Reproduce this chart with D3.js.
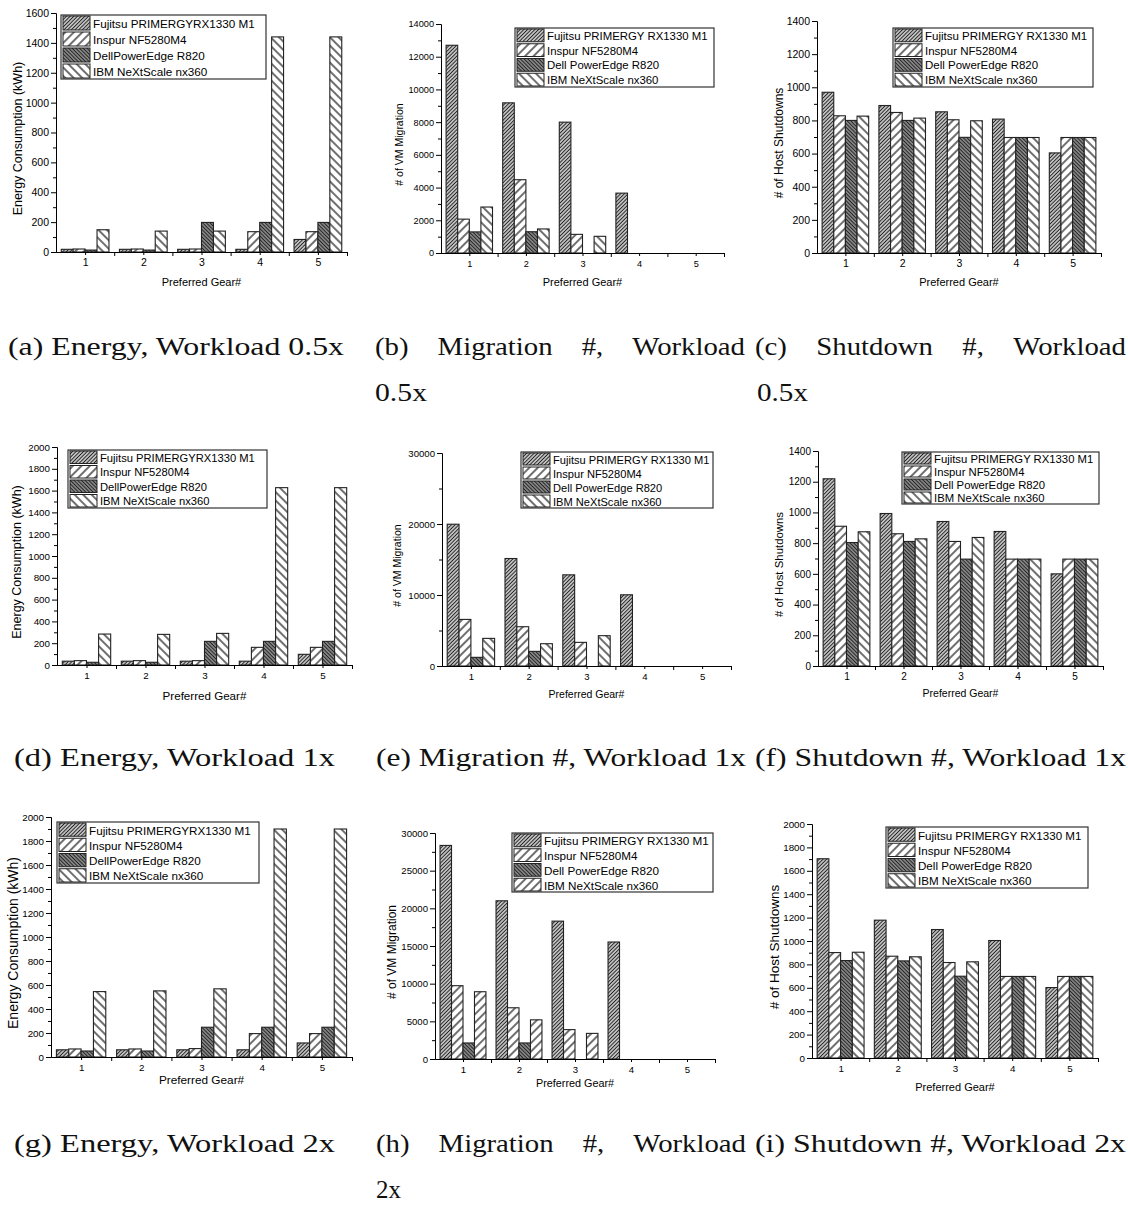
<!DOCTYPE html>
<html>
<head>
<meta charset="utf-8">
<script src="https://cdn.jsdelivr.net/npm/d3@7"></script>
<style>
body { margin: 0; background: #fff; }
svg text { font-family: "Liberation Sans", Arial, sans-serif; fill: #000; }
svg text.cap { font-family: "Liberation Serif", "Times New Roman", serif; fill: #111; }
</style>
</head>
<body>
<svg id="fig" width="1128" height="1209"></svg>
<script>
const gears = [1, 2, 3, 4, 5];

const energyNames = ["Fujitsu PRIMERGYRX1330 M1", "Inspur NF5280M4", "DellPowerEdge R820", "IBM NeXtScale nx360"];
const serverNames = ["Fujitsu PRIMERGY RX1330 M1", "Inspur NF5280M4", "Dell PowerEdge R820", "IBM NeXtScale nx360"];

// rows: Fujitsu, Inspur, Dell, IBM -- one value per preferred gear
const energy05 = [[18, 18, 18, 18, 84], [20, 20, 20, 136, 136], [13, 13, 198, 198, 198], [149, 140, 140, 1440, 1440]];
const energy1x = [[35, 35, 35, 35, 98], [40, 40, 40, 162, 162], [25, 25, 217, 217, 217], [284, 281, 290, 1627, 1627]];
const energy2x = [[60, 60, 60, 60, 117], [67, 67, 70, 195, 195], [50, 50, 248, 248, 248], [545, 551, 568, 1900, 1900]];

const migration05 = [[12700, 9180, 8000, 3660, 0], [2070, 4480, 1140, 0, 0], [1290, 1300, 0, 0, 0], [2810, 1470, 1020, 0, 0]];
const migration1x = [[19970, 15140, 12840, 10030, 0], [6560, 5530, 3330, 0, 0], [1220, 2060, 0, 0, 0], [3890, 3140, 4270, 0, 0]];
const migration2x = [[28350, 21000, 18300, 15530, 0], [9730, 6800, 3900, 0, 0], [2130, 2130, 0, 0, 0], [8930, 5200, 3400, 0, 0]];

const shutdown05 = [[970, 890, 852, 808, 604], [828, 848, 804, 697, 697], [800, 800, 698, 697, 697], [826, 814, 798, 697, 697]];
const shutdown1x = [[1219, 993, 941, 876, 600], [910, 861, 811, 696, 696], [804, 811, 696, 696, 696], [874, 828, 837, 696, 696]];
const shutdown2x = [[1703, 1178, 1098, 1004, 602], [901, 870, 816, 697, 697], [833, 830, 699, 697, 697], [904, 865, 822, 697, 697]];

const yTitles = ["Energy Consumption (kWh)", "# of VM Migration", "# of Host Shutdowns"];
const xTitle = "Preferred Gear#";

const captionTexts = [
    "(a) Energy, Workload 0.5x", "(b) Migration #, Workload", "0.5x", "(c) Shutdown #, Workload", "0.5x",
    "(d) Energy, Workload 1x", "(e) Migration #, Workload 1x", "(f) Shutdown #, Workload 1x",
    "(g) Energy, Workload 2x", "(h) Migration #, Workload", "2x", "(i) Shutdown #, Workload 2x"
];

// layout
const captionLayout = [
    {x0: 8, x1: 344, y: 355}, {x0: 375, x1: 745, y: 355, justify: true}, {x0: 375, x1: 427, y: 401},
    {x0: 755, x1: 1126, y: 355, justify: true}, {x0: 757, x1: 808, y: 401},
    {x0: 14, x1: 335, y: 766}, {x0: 376, x1: 746, y: 766}, {x0: 755, x1: 1126, y: 766},
    {x0: 14, x1: 335, y: 1152}, {x0: 376, x1: 746, y: 1152, justify: true}, {x0: 376, x1: 401, y: 1198},
    {x0: 755, x1: 1126, y: 1152}
];

const fourPats = ["fuj", "ins", "dell", "ibm"];

const panels = [
    {values: energy05, names: energyNames, pats: fourPats, yTitle: yTitles[0], yMax: 1600, major: 200,
     x0: 56, x1: 347, y0: 13, y1: 252, tickFont: 10.5, yTitleX: 18, yTitleFont: 12.5, xTitleY: 282, xTitleFont: 11,
     legend: [61, 15, 205, 64], legendFont: 11.7},
    {values: migration05, names: serverNames, pats: fourPats, yTitle: yTitles[1], yMax: 14000, major: 2000,
     x0: 441, x1: 724, y0: 24, y1: 253, tickFont: 9.2, yTitleX: 399, yTitleFont: 10.5, xTitleY: 282, xTitleFont: 11,
     legend: [515, 28, 199, 59], legendFont: 11.4},
    {values: shutdown05, names: serverNames, pats: fourPats, yTitle: yTitles[2], yMax: 1400, major: 200,
     x0: 817, x1: 1101, y0: 21, y1: 253, tickFont: 10.5, yTitleX: 779, yTitleFont: 12, xTitleY: 282, xTitleFont: 11,
     legend: [893, 28, 200, 59], legendFont: 11.5},
    {values: energy1x, names: energyNames, pats: fourPats, yTitle: yTitles[0], yMax: 2000, major: 200,
     x0: 57, x1: 352, y0: 447, y1: 665, tickFont: 9.8, yTitleX: 17, yTitleFont: 12.5, xTitleY: 695, xTitleFont: 11.6,
     legend: [68, 450, 199, 58], legendFont: 11.2},
    {values: migration1x, names: serverNames, pats: fourPats, yTitle: yTitles[1], yMax: 30000, major: 10000,
     x0: 442, x1: 731, y0: 453, y1: 666, tickFont: 9.6, yTitleX: 397, yTitleFont: 10.5, xTitleY: 694, xTitleFont: 10.5,
     legend: [521, 452, 192, 56], legendFont: 11.1},
    {values: shutdown1x, names: serverNames, pats: fourPats, yTitle: yTitles[2], yMax: 1400, major: 200,
     x0: 818, x1: 1103, y0: 451, y1: 666, tickFont: 10, yTitleX: 779, yTitleFont: 11.4, xTitleY: 693, xTitleFont: 10.5,
     legend: [902, 452, 197, 52], legendFont: 11.3},
    {values: energy2x, names: energyNames, pats: fourPats, yTitle: yTitles[0], yMax: 2000, major: 200,
     x0: 51, x1: 352, y0: 817, y1: 1057, tickFont: 9.8, yTitleX: 13, yTitleFont: 14, xTitleY: 1080, xTitleFont: 11.8,
     legend: [57, 822, 202, 61], legendFont: 11.7},
    {values: migration2x, names: serverNames, pats: ["fuj", "ins", "dell", "ins"], yTitle: yTitles[1], yMax: 30000, major: 5000,
     x0: 435, x1: 715, y0: 833, y1: 1059, tickFont: 9.6, yTitleX: 392, yTitleFont: 12, xTitleY: 1083, xTitleFont: 10.8,
     legend: [512, 833, 201, 59], legendFont: 11.7},
    {values: shutdown2x, names: serverNames, pats: fourPats, yTitle: yTitles[2], yMax: 2000, major: 200,
     x0: 812, x1: 1098, y0: 824, y1: 1058, tickFont: 9.8, yTitleX: 774, yTitleFont: 13.5, xTitleY: 1087, xTitleFont: 11,
     legend: [886, 827, 202, 61], legendFont: 11.6}
];

const svg = d3.select("#fig");

// hatch patterns
const defs = svg.append("defs");
function hatch(id, size, angle, lw, bg) {
    let p = defs.append("pattern")
        .attr("id", id)
        .attr("patternUnits", "userSpaceOnUse")
        .attr("width", size)
        .attr("height", size)
        .attr("patternTransform", `rotate(${angle})`);
    p.append("rect").attr("width", size).attr("height", size).attr("fill", bg);
    p.append("line")
        .attr("x1", size / 2).attr("x2", size / 2)
        .attr("y1", 0).attr("y2", size)
        .attr("stroke", "#222")
        .attr("stroke-width", lw);
}
hatch("fuj", 2.6, 45, 1.1, "#d8d8d8");
hatch("ins", 6, 45, 1.3, "#fff");
hatch("dell", 2.6, -45, 1.5, "#bbb");
hatch("ibm", 6, -45, 1.3, "#fff");

function drawPanel(p) {
    let g = svg.append("g");
    let y = d3.scaleLinear().domain([0, p.yMax]).range([p.y1, p.y0]);
    let xl = d3.scaleLinear().domain([0.5, 5.5]).range([p.x0, p.x1]);
    let xb = d3.scaleBand().domain(gears).range([p.x0, p.x1]).paddingInner(0.18).paddingOuter(0.09);
    let xs = d3.scaleBand().domain(d3.range(4)).range([0, xb.bandwidth()]);

    p.values.forEach(function(vals, si) {
        g.selectAll(null)
            .data(gears.map((gr, i) => ({gear: gr, v: vals[i]})).filter(d => d.v > 0))
            .join("rect")
            .attr("x", d => xb(d.gear) + xs(si))
            .attr("y", d => y(d.v))
            .attr("width", xs.bandwidth())
            .attr("height", d => y(0) - y(d.v))
            .attr("fill", `url(#${p.pats[si]})`)
            .attr("stroke", "#222")
            .attr("stroke-width", 1.1);
    });

    // y axis
    let majors = d3.range(0, p.yMax + 1, p.major);
    let minors = d3.range(p.major / 2, p.yMax, p.major);
    g.append("g")
        .attr("transform", `translate(${p.x0},0)`)
        .call(d3.axisLeft(y).tickValues(minors).tickSize(3).tickSizeOuter(0).tickFormat(""));
    g.append("g")
        .attr("transform", `translate(${p.x0},0)`)
        .call(d3.axisLeft(y).tickValues(majors).tickSize(5).tickSizeOuter(0).tickFormat(d3.format("d")))
        .call(a => a.attr("font-family", null).attr("font-size", p.tickFont))
        .call(a => a.selectAll("text").attr("x", -7));

    // x axis
    g.append("g")
        .attr("transform", `translate(0,${p.y1})`)
        .call(d3.axisBottom(xl).tickValues([1.5, 2.5, 3.5, 4.5, 5.5]).tickSize(4).tickSizeOuter(0).tickFormat(""));
    g.append("g")
        .attr("transform", `translate(0,${p.y1})`)
        .call(d3.axisBottom(xl).tickValues(gears).tickSize(3).tickSizeOuter(0).tickFormat(d3.format("d")))
        .call(a => a.attr("font-family", null).attr("font-size", p.tickFont))
        .call(a => a.selectAll("text").attr("y", 7));

    g.append("text")
        .attr("transform", `translate(${p.yTitleX},${(p.y0 + p.y1) / 2 + 6}) rotate(-90)`)
        .attr("text-anchor", "middle")
        .attr("dominant-baseline", "central")
        .attr("font-size", p.yTitleFont)
        .text(p.yTitle);
    g.append("text")
        .attr("x", (p.x0 + p.x1) / 2)
        .attr("y", p.xTitleY)
        .attr("text-anchor", "middle")
        .attr("dominant-baseline", "central")
        .attr("font-size", p.xTitleFont)
        .text(xTitle);

    // legend
    let [lx, ly, lw, lh] = p.legend;
    let rh = lh / 4;
    let leg = g.append("g");
    leg.append("rect")
        .attr("x", lx).attr("y", ly)
        .attr("width", lw).attr("height", lh)
        .attr("fill", "#fff")
        .attr("stroke", "#333")
        .attr("stroke-width", 1.2);
    p.names.forEach(function(name, i) {
        leg.append("rect")
            .attr("x", lx + 2)
            .attr("y", ly + i * rh + 1)
            .attr("width", 27)
            .attr("height", rh - 2)
            .attr("fill", `url(#${p.pats[i]})`)
            .attr("stroke", "#222");
        leg.append("text")
            .attr("x", lx + 32)
            .attr("y", ly + i * rh + rh / 2 + 0.5)
            .attr("dominant-baseline", "central")
            .attr("font-size", p.legendFont)
            .text(name);
    });
}

panels.forEach(drawPanel);

// captions (LaTeX style, justified where the original wraps)
const capSize = 25;
function caption(text, L) {
    if (!L.justify) {
        svg.append("text")
            .attr("class", "cap")
            .attr("x", L.x0).attr("y", L.y)
            .attr("font-size", capSize)
            .attr("textLength", L.x1 - L.x0)
            .attr("lengthAdjust", "spacingAndGlyphs")
            .text(text);
        return;
    }
    let words = text.split(" ");
    let nodes = words.map(w => svg.append("text").attr("class", "cap").attr("font-size", capSize).attr("y", L.y).text(w));
    let widths = nodes.map(n => n.node().getComputedTextLength() * 1.15);
    let gap = (L.x1 - L.x0 - d3.sum(widths)) / (words.length - 1);
    let x = L.x0;
    nodes.forEach(function(n, i) {
        n.attr("x", x).attr("textLength", widths[i]).attr("lengthAdjust", "spacingAndGlyphs");
        x += widths[i] + gap;
    });
}
captionTexts.forEach((t, i) => caption(t, captionLayout[i]));
</script>
</body>
</html>
